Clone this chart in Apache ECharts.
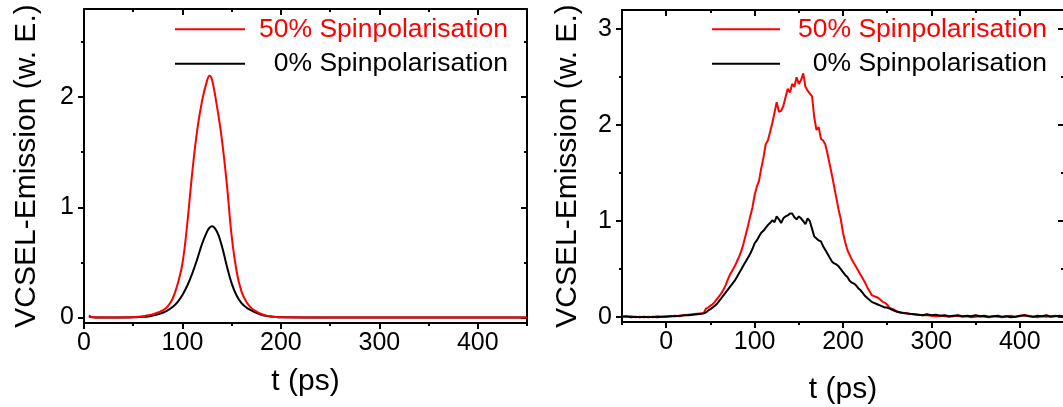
<!DOCTYPE html>
<html>
<head>
<meta charset="utf-8">
<script src="https://cdn.jsdelivr.net/npm/echarts@6/dist/echarts.min.js"></script>
<style>
html,body{margin:0;padding:0;background:#fff;}
#c{width:1063px;height:407px;}
</style>
</head>
<body>
<div id="c"></div>
<script>
// ---- Left panel (simulation) ----
const tLeft = [5,8,15,25,35,45,50,55,60,65,70,75,80,85,90,95,100,105,110,115,120,125,127.5,130,135,140,145,150,155,160,165,170,175,180,185,190,195,200,250,300,350,400,450];
const redLeft = [0.02,0.004,0,0,0, 0.002,0.003,0.006,0.011,0.02, 0.03,0.045,0.065,0.10,0.17, 0.30,0.49,0.86,1.32,1.70, 1.97,2.15,2.195,2.16,1.92, 1.62,1.22,0.74,0.42,0.235, 0.14,0.085,0.055,0.032,0.017, 0.008,0.004,0.002,0,0, 0,0,0];
const blackLeft = [0.01,0.002,0,0,0, 0.001,0.002,0.004,0.006,0.01, 0.018,0.028,0.043,0.065,0.095, 0.14,0.205,0.29,0.40,0.53, 0.67,0.78,0.815,0.828,0.78, 0.65,0.47,0.31,0.20,0.13, 0.09,0.065,0.042,0.025,0.015, 0.008,0.004,0.002,0,0, 0,0,0];

// ---- Right panel (measurement) ----
const tRight = [-50,-45,-40,-35,-30,-25,-20,-15,-10,-5,0,5,10,15,20,25,30,35,
 40,42.5,45,47.5,50,52.5,55,57.5,60,62.5,
 65,67.5,70,72.5,75,77.5,80,82.5,85,87.5,
 90,92.5,95,97.5,100,102.5,105,107.5,110,112.5,
 115,117.5,120,122.5,125,127.5,130,132.5,135,137.5,
 140,142.5,145,147.5,150,152.5,155,157.5,160,162.5,
 165,167.5,170,172.5,175,177.5,180,182.5,185,187.5,
 190,192.5,195,197.5,200,202.5,205,207.5,210,212.5,
 215,217.5,220,222.5,225,227.5,230,232.5,235,237.5,
 240,242.5,245,247.5,250,252.5,255,257.5,260,262.5,
 265,
 270,275,280,285,290,295,300,305,310,315,320,325,330,335,340,345,350,355,360,365,370,375,380,385,390,395,400,405,410,415,420,425,430,435,440,445,450];
const redRight = [0.01,0.005,0.01,0.0,0.005,0.0,0.005,0.0,0.01,0.005,0.01,0.01,0.015,0.01,0.02,0.025,0.03,0.035,
 0.04,0.045,0.09,0.10,0.12,0.135,0.16,0.19,0.22,0.25,
 0.29,0.34,0.40,0.45,0.49,0.53,0.58,0.63,0.69,0.77,
 0.86,0.95,1.05,1.14,1.27,1.36,1.42,1.55,1.66,1.80,
 1.84,1.93,2.02,2.13,2.24,2.14,2.15,2.20,2.29,2.38,
 2.34,2.43,2.40,2.50,2.43,2.47,2.54,2.40,2.36,2.33,
 2.30,2.08,1.95,1.98,1.86,1.84,1.80,1.70,1.59,1.48,
 1.36,1.24,1.12,1.02,0.88,0.78,0.70,0.65,0.60,0.56,
 0.52,0.48,0.44,0.40,0.36,0.31,0.27,0.23,0.22,0.21,
 0.20,0.18,0.16,0.15,0.13,0.10,0.09,0.08,0.065,0.055,
 0.05,
 0.045,0.035,0.03,0.025,0.02,0.02,0.015,0.01,0.015,0.01,0.005,0.01,0.015,0.005,0.01,0.0,0.005,0.01,0.005,0.0,0.01,0.005,0.0,0.01,0.015,0.005,0.01,0.02,0.015,0.005,0.0,0.01,0.005,0.01,0.015,0.005,0.01];
const blackRight = [0.005,0.01,0.0,0.005,0.0,0.005,0.0,0.005,0.0,0.005,0.005,0.01,0.01,0.015,0.02,0.02,0.025,0.03,
 0.035,0.04,0.05,0.07,0.085,0.10,0.12,0.14,0.17,0.20,
 0.23,0.26,0.29,0.32,0.35,0.38,0.42,0.46,0.50,0.54,
 0.58,0.62,0.66,0.71,0.77,0.80,0.84,0.88,0.90,0.93,
 0.96,0.98,1.01,0.99,1.05,1.02,0.98,1.03,1.05,1.06,
 1.08,1.08,1.04,1.02,1.05,1.03,1.00,0.97,1.03,1.00,
 0.92,0.84,0.82,0.80,0.79,0.74,0.70,0.66,0.62,0.58,
 0.56,0.55,0.53,0.50,0.47,0.44,0.42,0.38,0.36,0.35,
 0.33,0.30,0.28,0.25,0.22,0.20,0.18,0.16,0.15,0.14,
 0.13,0.12,0.11,0.10,0.10,0.09,0.08,0.07,0.06,0.055,
 0.05,
 0.04,0.035,0.03,0.025,0.02,0.03,0.02,0.025,0.015,0.02,0.01,0.015,0.02,0.01,0.015,0.01,0.02,0.01,0.015,0.005,0.01,0.015,0.005,0.01,0.0,0.005,0.015,0.02,0.01,0.005,0.015,0.01,0.02,0.005,0.01,0.015,0.005];

// ---- Ticks / labels ----
const yMajorLeft = [0,1,2];
const yMinorLeft = [0.5,1.5,2.5];
const xMajorLeft = [0,100,200,300,400];
const xMinorLeft = [50,150,250,350,450];
const yMajorRight = [0,1,2,3];
const yMinorRight = [0.5,1.5,2.5];
const xMajorRight = [0,100,200,300,400];
const xMinorRight = [-50,50,150,250,350,450];

const names = {red: '50% Spinpolarisation', black: '0% Spinpolarisation'};
const xTitle = 't (ps)';
const yTitle = 'VCSEL-Emission (w. E.)';

const F = '"Liberation Sans", Arial, Helvetica, sans-serif';
const BLACK = '#000000', RED = '#ff0000';
const LFS = 26.5;

function zip(t, v){ return t.map((x,i)=>[x, v[i]]); }

function makeY(gi, min, max, majors, minors, nameGap){
  const base = {gridIndex: gi, type:'value', min:min, max:max, splitLine:{show:false}};
  return [
    Object.assign({}, base, {position:'left', name:yTitle, nameLocation:'middle', nameGap:nameGap,
      nameTextStyle:{fontSize:30, color:BLACK, fontFamily:F},
      axisLine:{show:true, onZero:false, lineStyle:{color:BLACK, width:2}},
      axisTick:{show:true, inside:false, length:6, lineStyle:{color:BLACK, width:2}, customValues:majors},
      axisLabel:{show:true, customValues:majors, margin:10, fontSize:25, color:BLACK, fontFamily:F}}),
    Object.assign({}, base, {position:'left',
      axisLine:{show:false, onZero:false},
      axisTick:{show:true, inside:false, length:3, lineStyle:{color:BLACK, width:2}, customValues:minors},
      axisLabel:{show:false}}),
    Object.assign({}, base, {position:'right',
      axisLine:{show:true, onZero:false, lineStyle:{color:BLACK, width:2}},
      axisTick:{show:true, inside:true, length:6, lineStyle:{color:BLACK, width:2}, customValues:majors},
      axisLabel:{show:false}}),
    Object.assign({}, base, {position:'right',
      axisLine:{show:false, onZero:false},
      axisTick:{show:true, inside:true, length:3, lineStyle:{color:BLACK, width:2}, customValues:minors},
      axisLabel:{show:false}})
  ];
}
function makeX(gi, min, max, majors, minors, nameGap){
  const base = {gridIndex: gi, type:'value', min:min, max:max, splitLine:{show:false}};
  return [
    Object.assign({}, base, {position:'bottom', name:xTitle, nameLocation:'middle', nameGap:nameGap,
      nameTextStyle:{fontSize:30, color:BLACK, fontFamily:F},
      axisLine:{show:true, onZero:false, lineStyle:{color:BLACK, width:2}},
      axisTick:{show:true, inside:false, length:6, lineStyle:{color:BLACK, width:2}, customValues:majors},
      axisLabel:{show:true, customValues:majors, margin:8, fontSize:25, color:BLACK, fontFamily:F}}),
    Object.assign({}, base, {position:'bottom',
      axisLine:{show:false, onZero:false},
      axisTick:{show:true, inside:false, length:3, lineStyle:{color:BLACK, width:2}, customValues:minors},
      axisLabel:{show:false}}),
    Object.assign({}, base, {position:'top',
      axisLine:{show:true, onZero:false, lineStyle:{color:BLACK, width:2}},
      axisTick:{show:true, inside:true, length:6, lineStyle:{color:BLACK, width:2}, customValues:majors},
      axisLabel:{show:false}}),
    Object.assign({}, base, {position:'top',
      axisLine:{show:false, onZero:false},
      axisTick:{show:true, inside:true, length:3, lineStyle:{color:BLACK, width:2}, customValues:minors},
      axisLabel:{show:false}})
  ];
}
// legend: icons at fixed x, texts right-aligned (the shorter label gets extra left padding)
function makeLegend(left, itemWidth, padRed){
  const padBlack = padRed + 0.556 * LFS;
  return {
    left:left, top:15.75, padding:0, orient:'vertical', icon:'rect', itemWidth:itemWidth, itemHeight:2, itemGap:7.5,
    selectedMode:false,
    data:[names.red, names.black],
    formatter: function(n){ return (n===names.red ? '{r|' : '{k|') + n + '}'; },
    textStyle:{ fontSize:LFS, fontFamily:F, rich:{
      r:{color:RED, fontSize:LFS, fontFamily:F, padding:[0,0,0,padRed]},
      k:{color:BLACK, fontSize:LFS, fontFamily:F, padding:[0,0,0,padBlack]}
    }}
  };
}

const chart = echarts.init(document.getElementById('c'), null, {renderer:'canvas'});
chart.setOption({
  animation:false,
  backgroundColor:'#ffffff',
  grid:[
    {left:84, top:9, width:443, height:314, containLabel:false, outerBoundsMode:'none'},
    {left:622, top:10, width:442, height:312, containLabel:false, outerBoundsMode:'none'}
  ],
  legend:[ makeLegend(175, 70, 9), makeLegend(712, 68, 13) ],
  xAxis: makeX(0, 0, 450, xMajorLeft, xMinorLeft, 44).concat(makeX(1, -50, 450, xMajorRight, xMinorRight, 53)),
  yAxis: makeY(0, -0.05, 2.8, yMajorLeft, yMinorLeft, 42).concat(makeY(1, -0.05, 3.2, yMajorRight, yMinorRight, 39)),
  series:[
    {name:names.black, type:'line', xAxisIndex:0, yAxisIndex:0, data:zip(tLeft, blackLeft), symbol:'none', smooth:0.4, lineStyle:{color:BLACK, width:2}, itemStyle:{color:BLACK}},
    {name:names.red, type:'line', xAxisIndex:0, yAxisIndex:0, data:zip(tLeft, redLeft), symbol:'none', smooth:0.4, lineStyle:{color:RED, width:2}, itemStyle:{color:RED}},
    {name:names.red, type:'line', xAxisIndex:4, yAxisIndex:4, data:zip(tRight, redRight), symbol:'none', lineStyle:{color:RED, width:2}, itemStyle:{color:RED}},
    {name:names.black, type:'line', xAxisIndex:4, yAxisIndex:4, data:zip(tRight, blackRight), symbol:'none', lineStyle:{color:BLACK, width:2}, itemStyle:{color:BLACK}}
  ]
});
</script>
</body>
</html>
